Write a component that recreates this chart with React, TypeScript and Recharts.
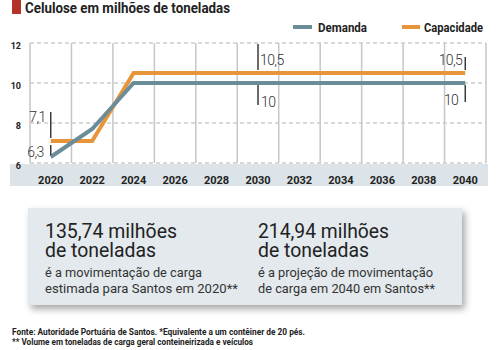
import React from 'react';
import {
  LineChart,
  Line,
  XAxis,
  YAxis,
  CartesianGrid,
  ReferenceLine,
} from 'recharts';

const years = [2020, 2022, 2024, 2026, 2028, 2030, 2032, 2034, 2036, 2038, 2040];
const demanda = [6.3, 7.7, 10, 10, 10, 10, 10, 10, 10, 10, 10];
const capacidade = [7.1, 7.1, 10.5, 10.5, 10.5, 10.5, 10.5, 10.5, 10.5, 10.5, 10.5];
const demandaLabels = ['6,3', '', '', '', '', '10', '', '', '', '', '10'];
const capacidadeLabels = ['7,1', '', '', '', '', '10,5', '', '', '', '', '10,5'];
const yTicks = [6, 8, 10, 12];
const bandEdges = [2019, 2021, 2023, 2025, 2027, 2029, 2031, 2033, 2035, 2037, 2039, 2041];
const seriesNames = ['Demanda', 'Capacidade'];

const BLUE = '#6b8d9a';
const ORANGE = '#e8943a';
const INK = '#222';

const data = years.map((year, i) => ({
  year,
  demanda: demanda[i],
  capacidade: capacidade[i],
}));

const XTick = (props: any) => {
  const { x, y, payload } = props;
  return (
    <text x={x} y={y + 19} textAnchor="middle" fontFamily="Roboto" fontWeight={700} fontSize={11} fill={INK}>
      {payload.value}
    </text>
  );
};

const YTick = (props: any) => {
  const { x, y, payload } = props;
  return (
    <text x={x - 7} y={y + 6} textAnchor="end" fontFamily="Roboto" fontWeight={700} fontSize={9} fill={INK}>
      {payload.value}
    </text>
  );
};

// annotation: short vertical tick plus value, drawn at the point
const makeAnnotation = (labels: string[], above: boolean) => (props: any) => {
  const { cx, cy, index } = props;
  const text = labels[index];
  if (!text || cx == null || cy == null) return <g key={`a-${index}`} />;
  const last = index === labels.length - 1;
  const first = index === 0;
  let y1: number, y2: number, tx: number, ty: number, anchor: 'start' | 'end';
  if (above) {
    y1 = last ? cy - 16 : cy - 29;
    y2 = cy - 3;
    tx = first ? cx - 5 : last ? cx - 3 : cx + 2;
    ty = first ? cy - 19 : cy - 8;
    anchor = first || last ? 'end' : 'start';
  } else if (first) {
    y1 = cy - 12;
    y2 = cy - 2;
    tx = cx - 7;
    ty = cy;
    anchor = 'end';
  } else {
    y1 = cy + 2;
    y2 = last ? cy + 19 : cy + 22;
    tx = last ? cx - 7 : cx + 3;
    ty = last ? cy + 22 : cy + 24;
    anchor = last ? 'end' : 'start';
  }
  return (
    <g key={`a-${index}`}>
      <line x1={cx} x2={cx} y1={y1} y2={y2} stroke="#3a3a3a" strokeWidth={1.5} />
      <text x={tx} y={ty} textAnchor={anchor} fontFamily="Roboto" fontWeight={300} fontSize={14} letterSpacing={-0.6} fill="#333">
        {text}
      </text>
    </g>
  );
};

export default function App() {
  return (
    <div style={{ position: 'absolute', left: 0, top: 0, width: 499, height: 350, background: '#fff' }}>
      <div style={{ position: 'absolute', left: 10, top: 164, width: 478, height: 22, background: '#dce4e9' }} />
      <div style={{ position: 'absolute', left: 0, top: 0 }}>
        <LineChart width={499} height={190} data={data} margin={{ top: 43, right: 13, bottom: 0, left: 0 }}>
          <CartesianGrid vertical={false} stroke="#b4b4b4" strokeDasharray="4 3" />
          {bandEdges.map((e) => (
            <ReferenceLine key={e} x={e} stroke="#c6c6c6" strokeWidth={1.5} ifOverflow="visible" />
          ))}
          <XAxis
            dataKey="year"
            type="number"
            domain={[2019, 2041]}
            ticks={years}
            interval={0}
            height={27}
            axisLine={false}
            tickLine={false}
            tickSize={0}
            tick={<XTick />}
          />
          <YAxis
            type="number"
            domain={[6, 12]}
            ticks={yTicks}
            width={30}
            axisLine={false}
            tickLine={false}
            tickSize={0}
            tick={<YTick />}
          />
          <Line
            dataKey="capacidade"
            name={seriesNames[1]}
            stroke={ORANGE}
            strokeWidth={4}
            dot={makeAnnotation(capacidadeLabels, true)}
            activeDot={false}
            isAnimationActive={false}
          />
          <Line
            dataKey="demanda"
            name={seriesNames[0]}
            stroke={BLUE}
            strokeWidth={4}
            dot={makeAnnotation(demandaLabels, false)}
            activeDot={false}
            isAnimationActive={false}
          />
        </LineChart>
      </div>
      <div
        style={{
          position: 'absolute',
          left: 28,
          top: 208,
          width: 434,
          height: 97,
          background: '#e3e9ed',
          boxShadow: '3px 4px 7px rgba(0,0,0,0.35)',
        }}
      />
      <svg width={499} height={350} style={{ position: 'absolute', left: 0, top: 0, pointerEvents: 'none' }}>
        <rect x={12} y={0} width={9} height={14} fill="#b3322a" />
        <text x={25} y={13} fontFamily="Roboto" fontWeight={700} fontSize={15} fill={INK} textLength={205} lengthAdjust="spacingAndGlyphs">
          Celulose em milhões de toneladas
        </text>

        <rect x={293} y={25} width={19} height={4} fill={BLUE} />
        <text x={318} y={32} fontFamily="Roboto" fontWeight={700} fontSize={12.5} fill={INK} textLength={49} lengthAdjust="spacingAndGlyphs">
          {seriesNames[0]}
        </text>
        <rect x={402} y={25} width={18} height={4} fill={ORANGE} />
        <text x={424} y={32} fontFamily="Roboto" fontWeight={700} fontSize={12.5} fill={INK} textLength={59} lengthAdjust="spacingAndGlyphs">
          {seriesNames[1]}
        </text>

        <g fontFamily="Roboto" fill={INK}>
          <text x={45} y={238} fontSize={20} textLength={132} lengthAdjust="spacingAndGlyphs">135,74 milhões</text>
          <text x={45} y={257} fontSize={20} textLength={111} lengthAdjust="spacingAndGlyphs">de toneladas</text>
          <text x={45} y={277} fontSize={13} fill="#333" textLength={157} lengthAdjust="spacingAndGlyphs">é a movimentação de carga</text>
          <text x={45} y={293} fontSize={13} fill="#333" textLength={193} lengthAdjust="spacingAndGlyphs">estimada para Santos em 2020**</text>

          <text x={258} y={238} fontSize={20} textLength={131} lengthAdjust="spacingAndGlyphs">214,94 milhões</text>
          <text x={258} y={257} fontSize={20} textLength={111} lengthAdjust="spacingAndGlyphs">de toneladas</text>
          <text x={258} y={277} fontSize={13} fill="#333" textLength={175} lengthAdjust="spacingAndGlyphs">é a projeção de movimentação</text>
          <text x={258} y={293} fontSize={13} fill="#333" textLength={177} lengthAdjust="spacingAndGlyphs">de carga em 2040 em Santos**</text>
        </g>

        <g fontFamily="Roboto" fontWeight={700} fontSize={9} fill={INK}>
          <text x={12} y={335} textLength={293} lengthAdjust="spacingAndGlyphs">
            Fonte: Autoridade Portuária de Santos. *Equivalente a um contêiner de 20 pés.
          </text>
          <text x={12} y={345} textLength={241} lengthAdjust="spacingAndGlyphs">
            ** Volume em toneladas de carga geral conteineirizada e veículos
          </text>
        </g>
      </svg>
    </div>
  );
}
